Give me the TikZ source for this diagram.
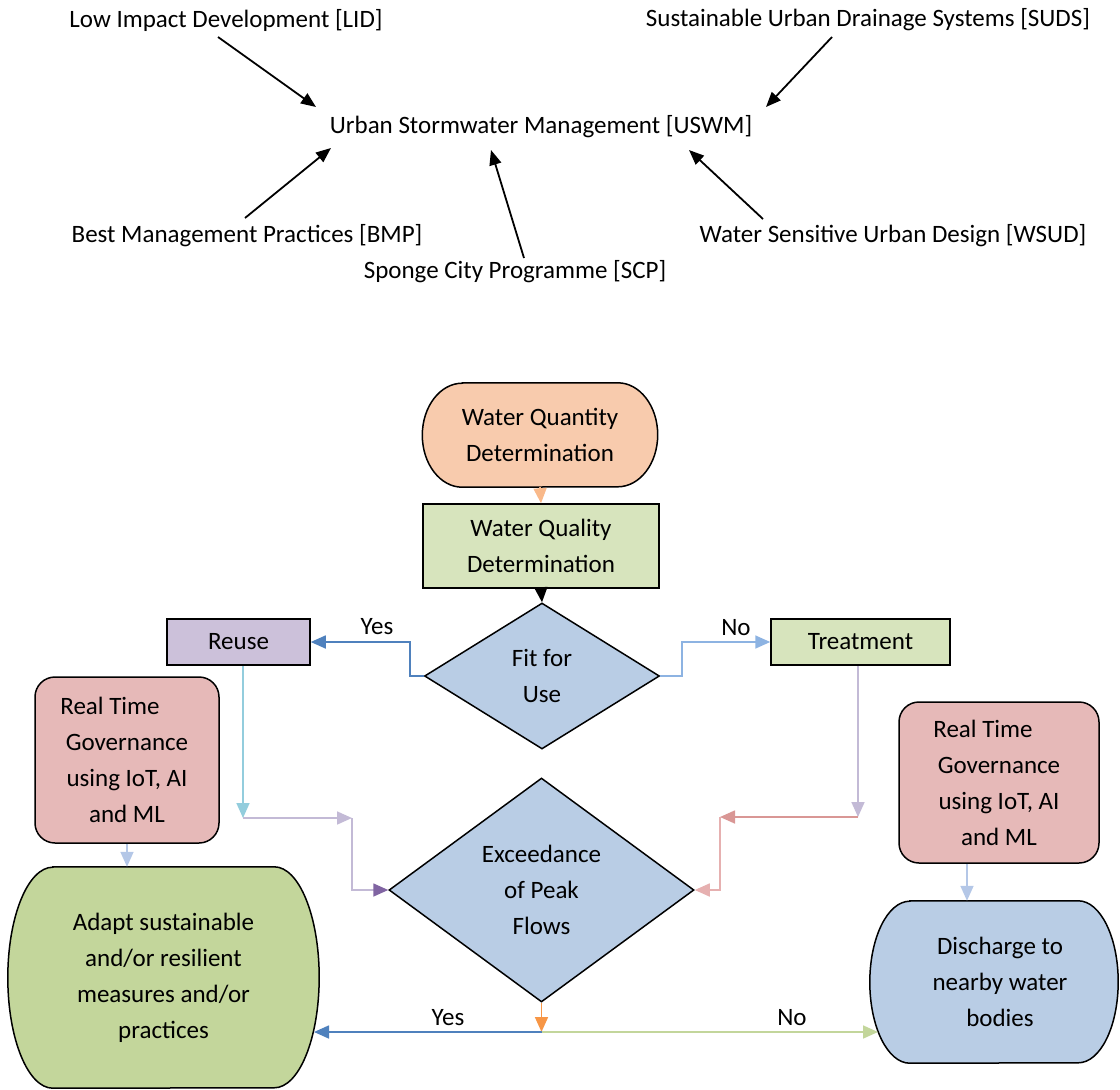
\documentclass[tikz,border=0pt]{standalone}
\usepackage{fontspec}
\setmainfont{Carlito}
\usetikzlibrary{arrows.meta,shapes.geometric,calc,backgrounds}
\definecolor{peach}{HTML}{F8CBAD}
\definecolor{lgreen}{HTML}{D7E4BD}
\definecolor{lav}{HTML}{CCC1DA}
\definecolor{dblue}{HTML}{B9CDE5}
\definecolor{rpink}{HTML}{E6B9B8}
\definecolor{agreen}{HTML}{C3D69B}
\definecolor{corange}{HTML}{F9B98A}
\definecolor{cblue}{HTML}{4F81BD}
\definecolor{clblue}{HTML}{8DB3E2}
\definecolor{ccyan}{HTML}{93CDDD}
\definecolor{clav}{HTML}{C3BAD6}
\definecolor{cpurple}{HTML}{8064A2}
\definecolor{cred}{HTML}{D99795}
\definecolor{cpink}{HTML}{E6B0B0}
\definecolor{cgreen}{HTML}{C3D69B}
\definecolor{cotip}{HTML}{F79646}
\definecolor{cpale}{HTML}{B4C7E7}
\newcommand\pillbg[4]{\draw[line width=1.5pt, fill=#4] ([xshift=#2pt]#1.north west) -- ([xshift=-#2pt]#1.north east) arc[start angle=90,end angle=-90,x radius=#2pt,y radius=#3pt] -- ([xshift=#2pt]#1.south west) arc[start angle=270,end angle=90,x radius=#2pt,y radius=#3pt] -- cycle;}
\begin{document}
\begin{tikzpicture}[x=1pt,y=-1pt,
  font=\fontsize{25}{36}\selectfont,
  lbl/.style={inner sep=0pt,outer sep=0pt},
  topar/.style={-{Triangle[length=15pt,width=12pt]}, line width=1.8pt, black},
  fbox/.style={draw=black, line width=1.5pt, align=center, inner sep=0pt},
  pillnode/.style={align=center, inner sep=0pt},
  con/.style={line width=1.7pt},
  tipc/.style={-{Triangle[length=15pt,width=13pt,color=#1]}},
]
\useasboundingbox (0,0) rectangle (1120,1090);

% ---- top concept map ----
\node[lbl] (lid)  at (226,20)  {Low Impact Development [LID]};
\node[lbl] (suds) at (868,20)  {Sustainable Urban Drainage Systems [SUDS]};
\node[lbl] (uswm) at (541,127) {Urban Stormwater Management [USWM]};
\node[lbl] (bmp)  at (247,236) {Best Management Practices [BMP]};
\node[lbl] (wsud) at (893,236) {Water Sensitive Urban Design [WSUD]};
\node[lbl] (scp)  at (515,272) {Sponge City Programme [SCP]};

\draw[topar] ($(lid)+(-8,17)$)   -- ($(uswm)+(-225,-20)$);
\draw[topar] ($(suds)+(-36,17)$) -- ($(uswm)+(225,-20)$);
\draw[topar] ($(bmp)+(-2,-18)$)  -- ($(uswm)+(-210,21)$);
\draw[topar] ($(scp)+(9,-14)$)   -- ($(uswm)+(-50,23)$);
\draw[topar] ($(wsud)+(-130,-17)$) -- ($(uswm)+(148,23)$);

% ---- flowchart ----
\node[pillnode, minimum width=235pt, minimum height=104pt] (wqn) at (540,435) {Water Quantity\\Determination};
\node[fbox, fill=lgreen, minimum width=236pt, minimum height=84pt] (wql) at (541,546) {Water Quality\\Determination};
\node[fbox, diamond, fill=dblue, minimum width=235pt, minimum height=146pt] (fit) at (542,676) {Fit for\\Use};
\node[fbox, fill=lav, minimum width=143pt, minimum height=46pt] (reuse) at (238.5,642) {Reuse};
\node[fbox, fill=lgreen, minimum width=179pt, minimum height=46pt] (treat) at (860.5,642) {Treatment};
\node[fbox, rounded corners=20pt, fill=rpink, minimum width=184pt, minimum height=166pt] (rtga) at (127,760) {Real Time\kern34pt\\Governance\\using IoT, AI\\and ML};
\node[fbox, diamond, fill=dblue, minimum width=305pt, minimum height=224pt] (exc) at (541.5,890) {Exceedance\\of Peak\\Flows};
\node[pillnode, minimum width=311pt, minimum height=221pt] (adapt) at (163.5,977.5) {Adapt sustainable\\and/or resilient\\measures and/or\\practices};
\node[fbox, rounded corners=20pt, fill=rpink, minimum width=200pt, minimum height=161pt] (rtgb) at (999,782.5) {Real Time\kern32pt\\Governance\\using IoT, AI\\and ML};
\node[pillnode, minimum width=248pt, minimum height=162pt] (dis) at (994,982) {\hspace*{12pt}Discharge to\\\hspace*{12pt}nearby water\\\hspace*{12pt}bodies};

\begin{scope}[on background layer]
\pillbg{wqn}{40}{52}{peach}
\pillbg{adapt}{45}{110.5}{agreen}
\pillbg{dis}{40}{81}{dblue}
\end{scope}

% connectors
\draw[con, corange, tipc=corange] (wqn.south) -- (wql.north);
\draw[con, black, tipc=black] (wql.south) -- (fit.north);

\draw[con, cblue, tipc=cblue] (fit.west) -- ++(-14,0) |- (reuse.east);
\node[lbl] (yes1) at (377,627) {Yes};
\draw[con, clblue, tipc=clblue] (fit.east) -- ++(22,0) |- (treat.west);
\node[lbl] (no1) at (736,628) {No};

\coordinate (c1) at (243,818);
\coordinate (c2) at (352,818);
\draw[con, ccyan, tipc=ccyan] (reuse.south -| c1) -- (c1);
\draw[con, clav, tipc=clav] (c1) -- (c2);
\draw[con, clav, tipc=cpurple] (c2) |- (exc.west);

\coordinate (c3) at (858,817);
\coordinate (c4) at (720,817);
\draw[con, clav, tipc=clav] (treat.south -| c3) -- (c3);
\draw[con, cred, tipc=cred] (c3) -- (c4);
\draw[con, cpink, tipc=cpink] (c4) |- (exc.east);

\draw[con, cpale, tipc=cpale] (rtga.south) -- (rtga.south |- adapt.north);
\coordinate (rb) at ($(rtgb.south)+(-32,0)$);
\draw[con, cpale, tipc=cpale] (rb) -- (rb |- dis.north);

\coordinate (j) at (541.5,1032);
\coordinate (aend) at (314,1032);
\coordinate (dend) at (878,1032);
\draw[con, cotip, tipc=cotip] (exc.south) -- (j);
\draw[con, cblue, tipc=cblue] (j) -- (aend);
\draw[con, cgreen, tipc=cgreen] (j) -- (dend);
\node[lbl] (yes2) at (448,1018) {Yes};
\node[lbl] (no2) at (792,1018) {No};
\end{tikzpicture}
\end{document}
